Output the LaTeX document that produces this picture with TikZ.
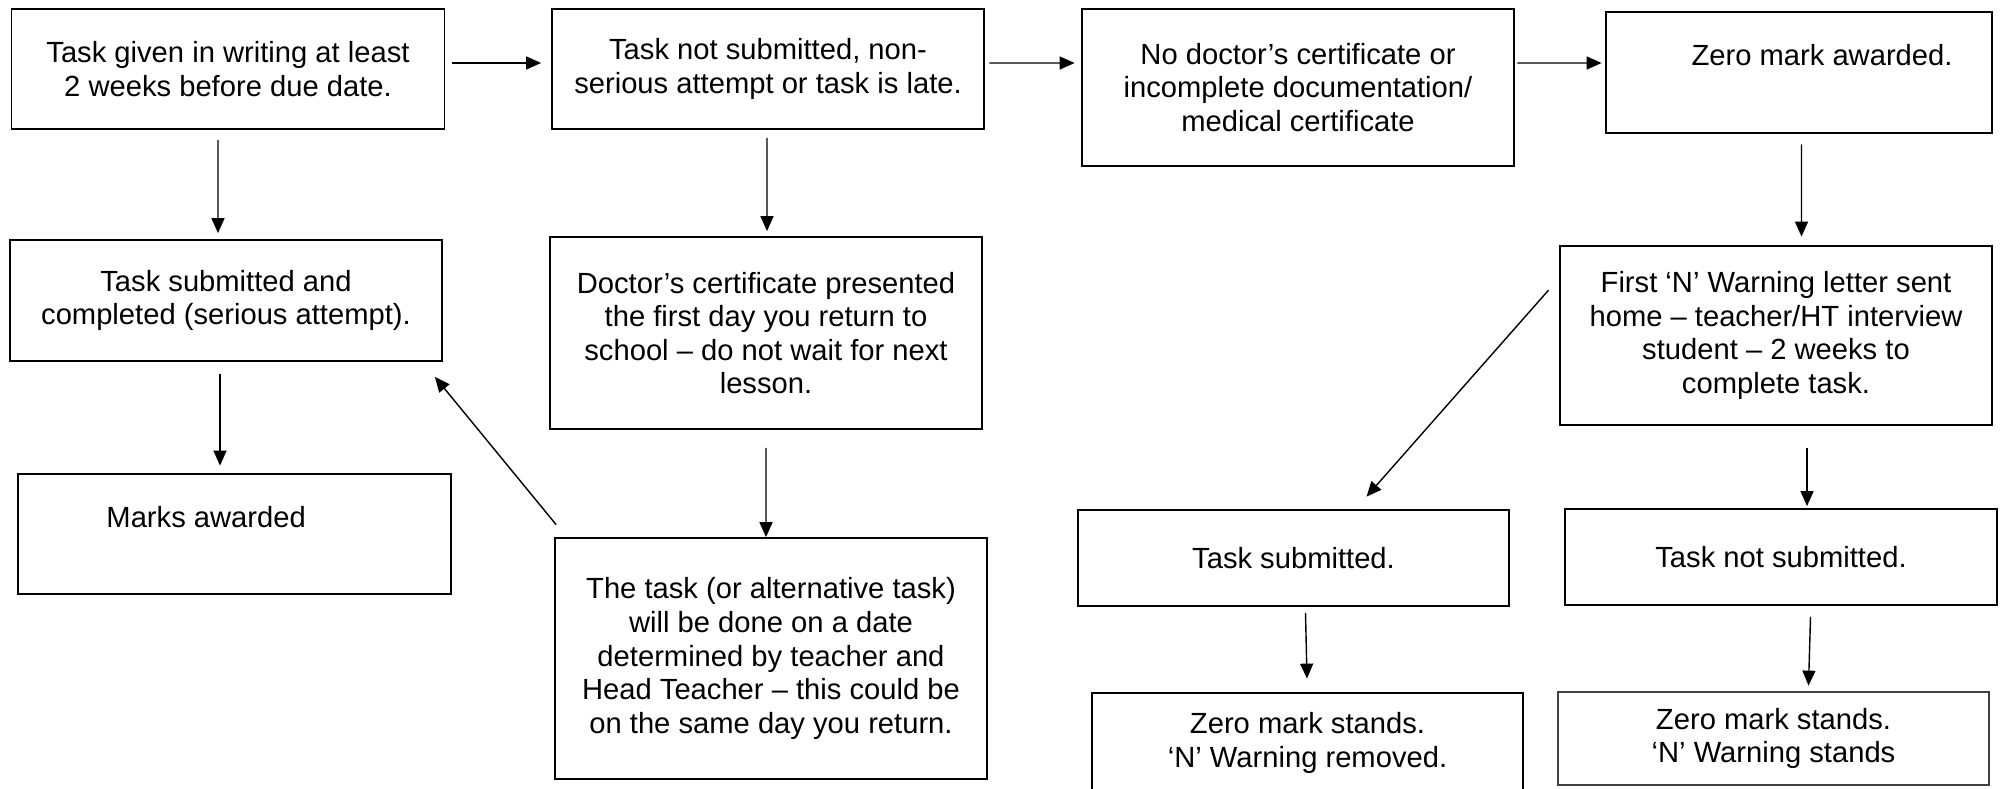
\documentclass[tikz,border=0pt]{standalone}
\usepackage{fontspec}
\setmainfont{Liberation Sans}
\usetikzlibrary{arrows.meta}

\begin{document}
\begin{tikzpicture}[
        box/.style={draw, rectangle, line width=1pt, align=center, inner sep=0pt},
        arr/.style={-{Triangle[length=0.3cm, width=0.26cm]}, line width=0.8pt},
        font=\fontsize{16.6}{19.1}\selectfont
    ]
        \useasboundingbox (0,0) rectangle (40.02,-15.76);

        \node[box, minimum width=8.66cm, minimum height=2.40cm] (given) at (4.56,-1.38) {Task given in writing at least\\2 weeks before due date.};
        \node[box, minimum width=8.64cm, minimum height=2.40cm] (notsub) at (15.36,-1.38) {Task not submitted, non-\\serious attempt or task is late.};
        \node[box, minimum width=8.64cm, minimum height=3.14cm] (nocert) at (25.96,-1.75) {No doctor’s certificate or\\incomplete documentation/\\medical certificate};
        \node[box, minimum width=7.72cm, minimum height=2.42cm] (zero) at (35.98,-1.45) {};
        \node[inner sep=0pt] (zeroText) at ([shift={(0.46,-0.87)}]zero.north) {Zero mark awarded.};

        \node[box, minimum width=8.64cm, minimum height=2.42cm] (subm) at (4.52,-6.01) {Task submitted and\\completed (serious attempt).};
        \node[box, minimum width=8.64cm, minimum height=3.84cm] (doccert) at (15.32,-6.66) {Doctor’s certificate presented\\the first day you return to\\school – do not wait for next\\lesson.};
        \node[box, minimum width=8.64cm, minimum height=3.58cm] (warn) at (35.52,-6.71) {First ‘N’ Warning letter sent\\home – teacher/HT interview\\student – 2 weeks to\\complete task.};

        \node[box, minimum width=8.66cm, minimum height=2.40cm] (marks) at (4.69,-10.68) {};
        \node[inner sep=0pt, anchor=west] (marksText) at ([shift={(1.78,-0.88)}]marks.north west) {Marks awarded};
        \node[box, minimum width=8.64cm, minimum height=4.82cm] (alttask) at (15.42,-13.17) {The task (or alternative task)\\will be done on a date\\determined by teacher and\\Head Teacher – this could be\\on the same day you return.};
        \node[box, minimum width=8.62cm, minimum height=1.92cm] (tasksub) at (25.87,-11.16) {Task submitted.};
        \node[box, minimum width=8.64cm, minimum height=1.92cm] (tasknot) at (35.62,-11.14) {Task not submitted.};

        \node[box, minimum width=8.62cm, minimum height=2.00cm] (removed) at (26.15,-14.86) {Zero mark stands.\\‘N’ Warning removed.};
        \node[box, draw=black!75, minimum width=8.62cm, minimum height=1.86cm] (stands) at (35.47,-14.77) {Zero mark stands.\\‘N’ Warning stands};

        \draw[arr] ([shift={(0.14,0.12)}]given.east) -- ([shift={(-0.2,0.12)}]notsub.west);
        \draw[arr] ([shift={(0.09,0.12)}]notsub.east) -- ([shift={(-0.13,0.49)}]nocert.west);
        \draw[arr] ([shift={(0.05,0.49)}]nocert.east) -- ([shift={(-0.07,0.19)}]zero.west);
        \draw[arr] ([shift={(-0.2,-0.2)}]given.south) -- ([shift={(-0.16,0.12)}]subm.north);
        \draw[arr] ([shift={(-0.02,-0.16)}]notsub.south) -- ([shift={(0.02,0.1)}]doccert.north);
        \draw[arr] ([shift={(-0.12,-0.24)}]subm.south) -- ([shift={(-0.29,0.15)}]marks.north);
        \draw[arr] ([shift={(0.04,0.25)}]alttask.north west) -- ([shift={(-0.16,-0.3)}]subm.south east);
        \draw[arr] ([shift={(0,-0.36)}]doccert.south) -- ([shift={(-0.1,0)}]alttask.north);
        \draw[arr] ([shift={(0.05,-0.21)}]zero.south) -- ([shift={(0.51,0.17)}]warn.north);
        \draw[arr] ([shift={(-0.21,0.91)}]warn.west) -- ([shift={(1.46,0.25)}]tasksub.north);
        \draw[arr] ([shift={(0.62,-0.44)}]warn.south) -- ([shift={(0.52,0.04)}]tasknot.north);
        \draw[arr] ([shift={(0.24,-0.12)}]tasksub.south) -- ([shift={(-0.01,0.27)}]removed.north);
        \draw[arr] ([shift={(0.59,-0.22)}]tasknot.south) -- ([shift={(0.7,0.11)}]stands.north);
    \end{tikzpicture}
\end{document}
